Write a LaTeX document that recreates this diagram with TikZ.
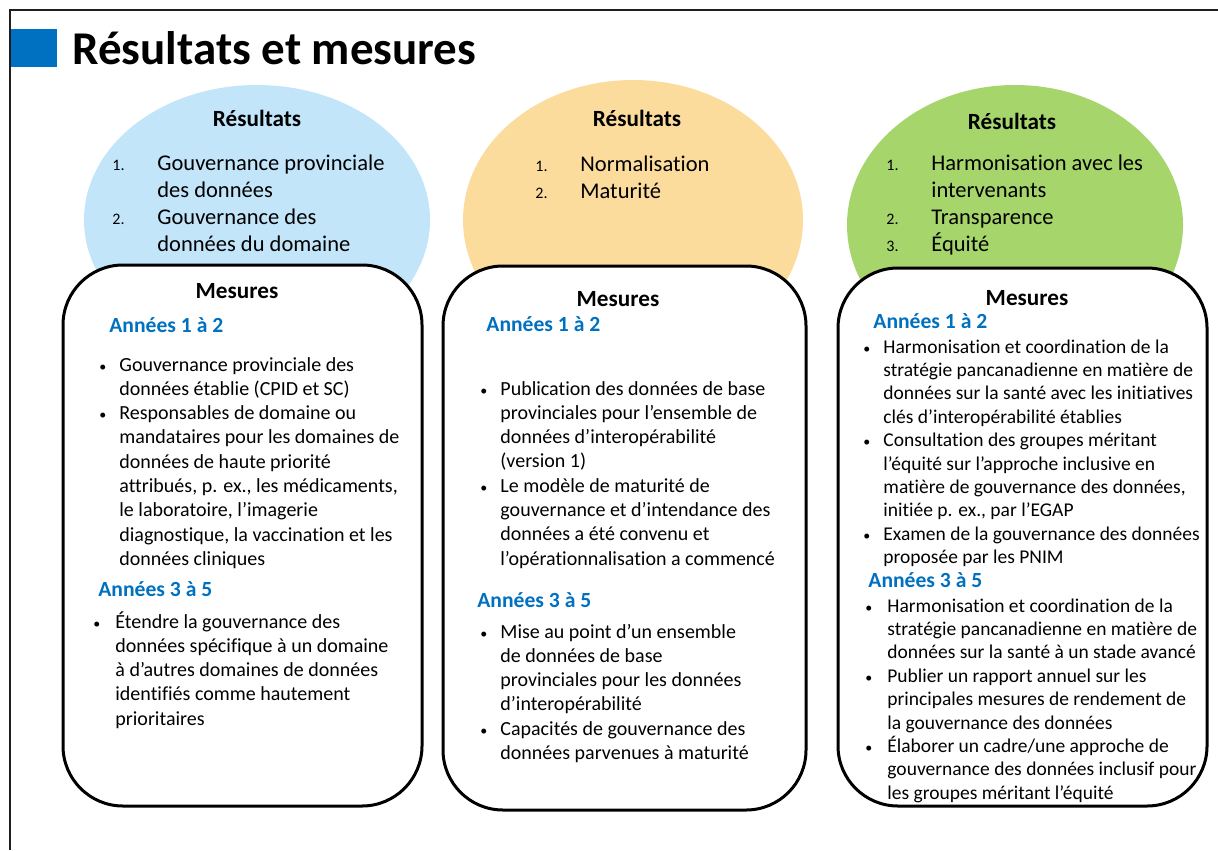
\documentclass[tikz,border=0pt]{standalone}
\usepackage{fontspec}
\setmainfont{Carlito}[Ligatures=CommonOff]
\usetikzlibrary{shapes.geometric,positioning}

\definecolor{resblue}{RGB}{194,229,250}
\definecolor{resorange}{RGB}{251,220,156}
\definecolor{resgreen}{RGB}{166,213,108}
\definecolor{annblue}{RGB}{0,112,192}
\definecolor{framegray}{RGB}{30,30,30}

\newcommand{\puce}{{\fontsize{7}{8}\selectfont\textbullet}}
\newcommand{\resnum}[1]{{\fontsize{8}{9}\selectfont #1}}

\begin{document}
\begin{tikzpicture}[x=0.5pt,y=-0.5pt,
  resoval/.style={ellipse,inner sep=0pt,draw=none},
  mesbox/.style={draw=black,line width=1.5pt,fill=white,rounded corners=30pt,inner sep=0pt},
  hdr/.style={font=\bfseries\fontsize{11.6}{14}\selectfont,inner sep=0pt,anchor=base},
  yrs/.style={font=\bfseries\fontsize{10.8}{13}\selectfont,text=annblue,inner sep=0pt,anchor=base west},
  reslist/.style={font=\fontsize{11.25}{13.5}\selectfont,inner sep=0pt,anchor=base west},
  meslist/.style={font=\fontsize{10}{12.15}\selectfont,inner sep=0pt,anchor=base west},
  meslistsm/.style={font=\fontsize{9.75}{11.7}\selectfont,inner sep=0pt,anchor=base west}]
  \useasboundingbox (0,0) rectangle (1218,850);

  % slide frame and title
  \draw[framegray,line width=1pt] (10,850) -- (10,10) -- (1218,10);
  \fill[annblue] (11,29) rectangle (57,67);
  \node[font=\bfseries\fontsize{23.5}{28}\selectfont,inner sep=0pt,anchor=base west] (title) at (72,65) {Résultats et mesures};

  % Résultats
  \node[resoval,fill=resblue,minimum width=173pt,minimum height=135pt] (resA) at (257,220) {};
  \node[resoval,fill=resorange,minimum width=170pt,minimum height=140pt] (resB) at (633,220) {};
  \node[resoval,fill=resgreen,minimum width=168pt,minimum height=140pt] (resC) at (1015,225) {};

  % Mesures
  \node[mesbox,minimum width=179.5pt,minimum height=270.5pt] (mesA) at (242.5,535.5) {};
  \node[mesbox,minimum width=181.5pt,minimum height=272pt] (mesB) at (624.5,538) {};
  \node[mesbox,minimum width=184.5pt,minimum height=269pt] (mesC) at (1022.5,537) {};

  % colonne 1
  \node[hdr] (resAhdr) at (257,127) {Résultats};
  \node[reslist] (resAlist) at (112,170) {\begin{tabular}[t]{@{}p{22.5pt}@{}l@{}}
    \resnum{1.} & Gouvernance provinciale\\
                & des données\\
    \resnum{2.} & Gouvernance des\\
                & données du domaine
  \end{tabular}};
  \node[hdr] (mesAhdr) at (237,298) {Mesures};
  \node[yrs] (mesAyrsA) at (109,332) {Années 1 à 2};
  \node[meslist] (mesAlistA) at (99,371) {\begin{tabular}[t]{@{}p{10pt}@{}l@{}}
    \puce & Gouvernance provinciale des\\
          & données établie (CPID et SC)\\
    \puce & Responsables de domaine ou\\
          & mandataires pour les domaines de\\
          & données de haute priorité\\
          & attribués, p. ex., les médicaments,\\
          & le laboratoire, l’imagerie\\
          & diagnostique, la vaccination et les\\
          & données cliniques
  \end{tabular}};
  \node[yrs] (mesAyrsB) at (98,596) {Années 3 à 5};
  \node[meslist] (mesAlistB) at (93,628) {\begin{tabular}[t]{@{}p{11pt}@{}l@{}}
    \puce & Étendre la gouvernance des\\
          & données spécifique à un domaine\\
          & à d’autres domaines de données\\
          & identifiés comme hautement\\
          & prioritaires
  \end{tabular}};

  % colonne 2
  \node[hdr] (resBhdr) at (637,127) {Résultats};
  \node[reslist] (resBlist) at (535,171) {\begin{tabular}[t]{@{}p{22.5pt}@{}l@{}}
    \resnum{1.} & Normalisation\\
    \resnum{2.} & Maturité
  \end{tabular}};
  \node[hdr] (mesBhdr) at (618,306) {Mesures};
  \node[yrs] (mesByrsA) at (486,331) {Années 1 à 2};
  \node[meslist] (mesBlistA) at (480,395) {\begin{tabular}[t]{@{}p{10pt}@{}l@{}}
    \puce & Publication des données de base\\
          & provinciales pour l’ensemble de\\
          & données d’interopérabilité\\
          & (version 1)\\
    \puce & Le modèle de maturité de\\
          & gouvernance et d’intendance des\\
          & données a été convenu et\\
          & l’opérationnalisation a commencé
  \end{tabular}};
  \node[yrs] (mesByrsB) at (477,607) {Années 3 à 5};
  \node[meslist] (mesBlistB) at (480,638) {\begin{tabular}[t]{@{}p{10pt}@{}l@{}}
    \puce & Mise au point d’un ensemble\\
          & de données de base\\
          & provinciales pour les données\\
          & d’interopérabilité\\
    \puce & Capacités de gouvernance des\\
          & données parvenues à maturité
  \end{tabular}};

  % colonne 3
  \node[hdr] (resChdr) at (1012,130) {Résultats};
  \node[reslist] (resClist) at (886,170) {\begin{tabular}[t]{@{}p{22.5pt}@{}l@{}}
    \resnum{1.} & Harmonisation avec les\\
                & intervenants\\
    \resnum{2.} & Transparence\\
    \resnum{3.} & Équité
  \end{tabular}};
  \node[hdr] (mesChdr) at (1027,305) {Mesures};
  \node[yrs] (mesCyrsA) at (873,328) {Années 1 à 2};
  \node[meslistsm] (mesClistA) at (863,353) {\begin{tabular}[t]{@{}p{10pt}@{}l@{}}
    \puce & Harmonisation et coordination de la\\
          & stratégie pancanadienne en matière de\\
          & données sur la santé avec les initiatives\\
          & clés d’interopérabilité établies\\
    \puce & Consultation des groupes méritant\\
          & l’équité sur l’approche inclusive en\\
          & matière de gouvernance des données,\\
          & initiée p. ex., par l’EGAP\\
    \puce & Examen de la gouvernance des données\\
          & proposée par les PNIM
  \end{tabular}};
  \node[yrs] (mesCyrsB) at (868,587) {Années 3 à 5};
  \node[meslistsm] (mesClistB) at (865,612) {\begin{tabular}[t]{@{}p{11pt}@{}l@{}}
    \puce & Harmonisation et coordination de la\\
          & stratégie pancanadienne en matière de\\
          & données sur la santé à un stade avancé\\
    \puce & Publier un rapport annuel sur les\\
          & principales mesures de rendement de\\
          & la gouvernance des données\\
    \puce & Élaborer un cadre/une approche de\\
          & gouvernance des données inclusif pour\\
          & les groupes méritant l’équité
  \end{tabular}};
\end{tikzpicture}
\end{document}
